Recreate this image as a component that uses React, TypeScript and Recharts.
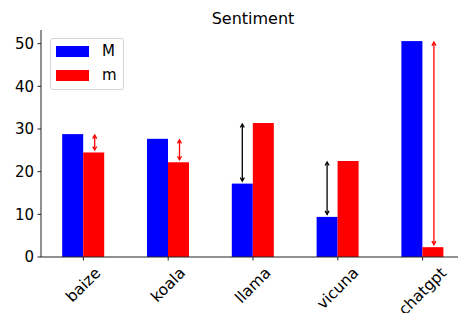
import React from 'react';
import { BarChart, Bar, XAxis, YAxis } from 'recharts';

const categories = ['baize', 'koala', 'llama', 'vicuna', 'chatgpt'];
const bigM = [28.8, 27.7, 17.2, 9.4, 50.6];
const smallM = [24.5, 22.2, 31.4, 22.5, 2.3];
const yTicks = [0, 10, 20, 30, 40, 50];
const seriesNames = ['M', 'm'];
const seriesColors = ['#0000ff', '#ff0000'];

const data = categories.map((c, i) => ({ name: c, M: bigM[i], m: smallM[i] }));

const FONT = 'DejaVu Sans, sans-serif';

let ctx: CanvasRenderingContext2D | null = null;
function measure(text: string, size: number): number {
  try {
    if (!ctx) ctx = document.createElement('canvas').getContext('2d');
    if (ctx) {
      ctx.font = `${size}px "DejaVu Sans"`;
      return ctx.measureText(text).width;
    }
  } catch (e) {}
  return text.length * size * 0.55;
}

function Arrow({ x, y1, y2, color }: { x: number; y1: number; y2: number; color: string }) {
  const hl = 3.5;
  const hw = 2;
  return (
    <g stroke={color} strokeWidth={1.3} fill="none">
      <line x1={x} y1={y1} x2={x} y2={y2} />
      <polyline points={`${x - hw},${y1 + hl} ${x},${y1} ${x + hw},${y1 + hl}`} />
      <polyline points={`${x - hw},${y2 - hl} ${x},${y2} ${x + hw},${y2 - hl}`} />
    </g>
  );
}

const BigShape = (props: any) => {
  const { x, y, width, height, fill, payload } = props;
  const base = y + height;
  const k = height / payload.M;
  let arrow = null;
  if (payload.m > payload.M) {
    const ym = base - payload.m * k;
    arrow = <Arrow x={x + width / 2} y1={ym + 1} y2={y - 2.5} color="#000" />;
  }
  return (
    <g>
      <rect x={x} y={y} width={width} height={height} fill={fill} />
      {arrow}
    </g>
  );
};

const SmallShape = (props: any) => {
  const { x, y, width, height, fill, payload } = props;
  const base = y + height;
  const k = height / payload.m;
  let arrow = null;
  if (payload.M > payload.m) {
    const yM = base - payload.M * k;
    arrow = <Arrow x={x + width / 2 + 1} y1={yM + 1} y2={y - 2.5} color="#ff0000" />;
  }
  return (
    <g>
      <rect x={x} y={y} width={width} height={height} fill={fill} />
      {arrow}
    </g>
  );
};

const XTick = (props: any) => {
  const { x, y, payload } = props;
  const fs = 15.5;
  const w = measure(String(payload.value), fs);
  const h = fs * 1.16;
  const cy = y + (w + h) / (2 * Math.SQRT2);
  return (
    <text
      x={x}
      y={cy}
      textAnchor="middle"
      dominantBaseline="central"
      fontFamily={FONT}
      fontSize={fs}
      fill="#000"
      transform={`rotate(-45 ${x} ${cy})`}
    >
      {payload.value}
    </text>
  );
};

const LegendBox = () => (
  <div
    style={{
      position: 'absolute',
      left: 50,
      top: 38,
      width: 72,
      height: 50,
      border: '1px solid #d5d5d5',
      borderRadius: 3,
      background: 'rgba(255,255,255,0.8)',
      fontFamily: FONT,
      fontSize: 15,
    }}
  >
    {seriesNames.map((n, i) => (
      <div key={n} style={{ position: 'absolute', left: 5, top: 6 + i * 24, height: 12, display: 'flex', alignItems: 'center' }}>
        <div style={{ width: 33, height: 11, background: seriesColors[i] }} />
        <span style={{ marginLeft: 13, lineHeight: '12px', color: '#000' }}>{n}</span>
      </div>
    ))}
  </div>
);

export default function App() {
  return (
    <div style={{ position: 'absolute', left: 0, top: 0, width: 458, height: 313, overflow: 'hidden', background: '#fff' }}>
      <svg width={458} height={30} style={{ position: 'absolute', left: 0, top: 0 }}>
        <text x={253} y={24} textAnchor="middle" fontFamily={FONT} fontSize={16} fill="#000">
          Sentiment
        </text>
      </svg>
      <div style={{ position: 'absolute', left: 0, top: 0 }}>
        <BarChart
          width={470}
          height={313}
          data={data}
          margin={{ top: 30, right: 5, bottom: 0, left: 0 }}
          barCategoryGap="25%"
          barGap={0}
        >
          <XAxis
            dataKey="name"
            height={56}
            tickSize={3.5}
            tickMargin={3.5}
            tick={<XTick />}
            interval={0}
            axisLine={{ stroke: '#222', strokeWidth: 1 }}
            tickLine={{ stroke: '#222' }}
          />
          <XAxis
            xAxisId="top"
            dataKey="name"
            orientation="top"
            height={0}
            tick={false}
            tickLine={false}
            axisLine={{ stroke: '#222', strokeWidth: 1 }}
          />
          <YAxis
            width={41}
            domain={[0, 53.2]}
            ticks={yTicks}
            tickSize={3.5}
            tickMargin={3.5}
            axisLine={{ stroke: '#222', strokeWidth: 1 }}
            tickLine={{ stroke: '#222' }}
            tick={{ fontFamily: FONT, fontSize: 15, fill: '#000' }}
            allowDataOverflow
          />
          <Bar dataKey="M" name="M" fill={seriesColors[0]} shape={BigShape} isAnimationActive={false} />
          <Bar dataKey="m" name="m" fill={seriesColors[1]} shape={SmallShape} isAnimationActive={false} />
        </BarChart>
      </div>
      <LegendBox />
    </div>
  );
}
